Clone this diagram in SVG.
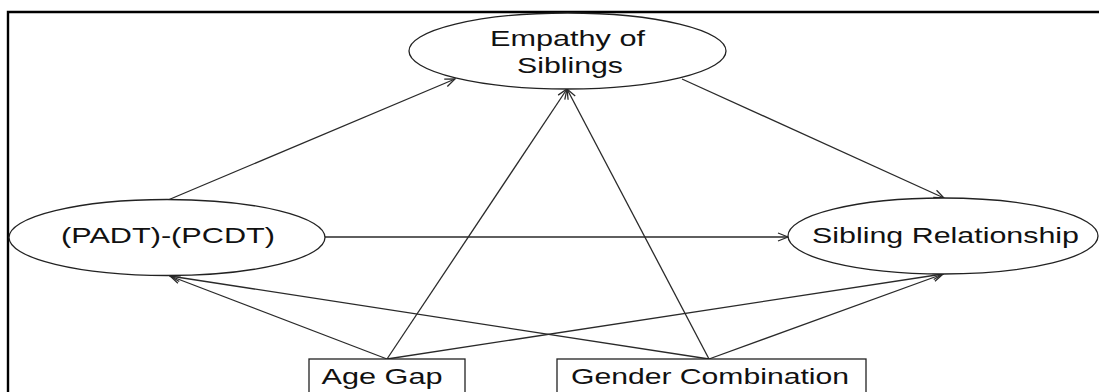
<svg xmlns="http://www.w3.org/2000/svg" width="1099" height="392" viewBox="0 0 1099 392">
  <defs>
    <style>
      .frame { fill: none; stroke: #000; stroke-width: 2.4; }
      .node { fill: #fff; stroke: #222; stroke-width: 1.3; }
      .lbl { font-family: "Liberation Sans", Arial, sans-serif; font-size: 22px; fill: #111; text-anchor: start; }
      .edge { fill: none; stroke: #2a2a2a; stroke-width: 1.3; marker-end: url(#arrow); }
    </style>
    <marker id="arrow" markerWidth="12" markerHeight="10" refX="11" refY="5" orient="auto" markerUnits="userSpaceOnUse">
      <path d="M1,1 L11,5 L1,9" fill="none" stroke="#2a2a2a" stroke-width="1.3"/>
    </marker>
  </defs>

  <rect width="1099" height="392" fill="#fff"/>

  <!-- outer frame (open on right and bottom) -->
  <path class="frame" d="M8,392 L8,12 L1099,12"/>

  <!-- connectors -->
  <g id="connectors">
    <line class="edge" x1="168" y1="200" x2="455" y2="79"/>
    <line class="edge" x1="682" y1="79" x2="944" y2="198"/>
    <line class="edge" x1="325" y1="237" x2="788" y2="237"/>
    <line class="edge" x1="387" y1="359" x2="567" y2="89"/>
    <line class="edge" x1="709" y1="359" x2="567" y2="89"/>
    <line class="edge" x1="387" y1="359" x2="170" y2="276"/>
    <line class="edge" x1="709" y1="359" x2="170" y2="276"/>
    <line class="edge" x1="387" y1="359" x2="943" y2="274"/>
    <line class="edge" x1="709" y1="359" x2="943" y2="274"/>
  </g>

  <g id="empathy">
    <ellipse class="node" cx="567.5" cy="51" rx="158.5" ry="38"/>
    <text class="lbl" x="490" y="45.5" textLength="155" lengthAdjust="spacingAndGlyphs">Empathy of</text>
    <text class="lbl" x="517" y="72.5" textLength="106" lengthAdjust="spacingAndGlyphs">Siblings</text>
  </g>

  <g id="padt-pcdt">
    <ellipse class="node" cx="167" cy="237.5" rx="158" ry="38"/>
    <text class="lbl" x="61" y="243" textLength="214" lengthAdjust="spacingAndGlyphs">(PADT)-(PCDT)</text>
  </g>

  <g id="sibling-relationship">
    <ellipse class="node" cx="943" cy="236" rx="155" ry="38"/>
    <text class="lbl" x="812" y="243" textLength="267" lengthAdjust="spacingAndGlyphs">Sibling Relationship</text>
  </g>

  <g id="age-gap">
    <rect class="node" x="309" y="359" width="156" height="40"/>
    <text class="lbl" x="321.5" y="384" textLength="121" lengthAdjust="spacingAndGlyphs">Age Gap</text>
  </g>

  <g id="gender-combination">
    <rect class="node" x="557" y="359" width="309" height="40"/>
    <text class="lbl" x="571" y="384" textLength="278" lengthAdjust="spacingAndGlyphs">Gender Combination</text>
  </g>
</svg>
